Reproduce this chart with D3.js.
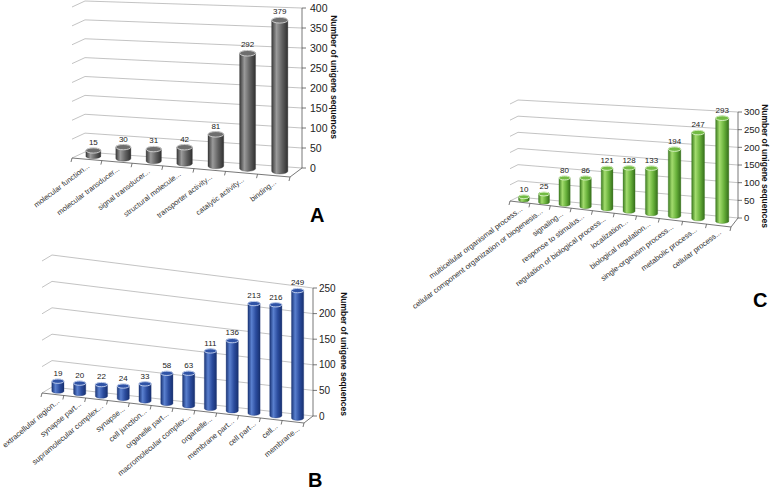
<!DOCTYPE html>
<html>
<head>
<meta charset="utf-8">
<script src="https://cdn.jsdelivr.net/npm/d3@7/dist/d3.min.js"></script>
<style>
  body { margin: 0; background: #fff; }
  svg { display: block; font-family: "Liberation Sans", Arial, sans-serif; }
</style>
</head>
<body>
<svg id="chart" width="778" height="491"></svg>
<script>
// ---- data ----
const mf_categories = ['molecular function...', 'molecular transducer...', 'signal transducer...',
  'structural molecule...', 'transporter activity...', 'catalytic activity...', 'binding...'];
const mf_values = [15, 30, 31, 42, 81, 292, 379];
const mf_ticks = [0, 50, 100, 150, 200, 250, 300, 350, 400];

const cc_categories = ['extracellular region...', 'synapse part...', 'supramolecular complex...',
  'synapse...', 'cell junction...', 'organelle part...', 'macromolecular complex...',
  'organelle...', 'membrane part...', 'cell part...', 'cell...', 'membrane...'];
const cc_values = [19, 20, 22, 24, 33, 58, 63, 111, 136, 213, 216, 249];
const cc_ticks = [0, 50, 100, 150, 200, 250];

const bp_categories = ['multicellular organismal process...',
  'cellular component organization or biogenesis...', 'signaling...', 'response to stimulus...',
  'regulation of biological process...', 'localization...', 'biological regulation...',
  'single-organism process...', 'metabolic process...', 'cellular process...'];
const bp_values = [10, 25, 80, 86, 121, 128, 133, 194, 247, 293];
const bp_ticks = [0, 50, 100, 150, 200, 250, 300];

const axis_title = 'Number of unigene sequences';

// ---- layout of the three pseudo-3D boxes (screen corners of back wall + floor front) ----
const panels = [
  {
    id: 'A', categories: mf_categories, values: mf_values, ticks: mf_ticks,
    bbl: [85, 152], btl: [85, 1], bbr: [302, 168], btr: [302, 8], fbl: [72, 158], fbr: [290, 177],
    s: 1.05, radius: 0.25, label_gap: 8, tick_font: 10.5,
    cat_font: 7.5, cat_angle: -37, cat_dx: 3,
    colors: ['#3a3a3a', '#9a9a9a', '#606060', '#303030', '#6e6e6e', '#d4d4d4'],
    title_xy: [334, 77], letter_xy: [310, 222]
  },
  {
    id: 'B', categories: cc_categories, values: cc_values, ticks: cc_ticks,
    bbl: [52, 387], btl: [52, 255], bbr: [313, 416], btr: [313, 288], fbl: [42, 393], fbr: [304, 423],
    s: 1.0, radius: 0.28, label_gap: 6, tick_font: 10,
    cat_font: 7.7, cat_angle: -40, cat_dx: 7,
    colors: ['#1a3577', '#5a80cf', '#2b4c9e', '#173070', '#2f53a6', '#c8d6f2'],
    title_xy: [344, 354], letter_xy: [308, 487]
  },
  {
    id: 'C', categories: bp_categories, values: bp_values, ticks: bp_ticks,
    bbl: [518, 197], btl: [518, 100], bbr: [738, 218], btr: [738, 112], fbl: [510, 201], fbr: [731, 227],
    s: 1.12, radius: 0.27, label_gap: 6, tick_font: 9.5,
    cat_font: 7.6, cat_angle: -37, cat_dx: 3,
    colors: ['#3d7d1f', '#a3dc6e', '#67b03a', '#356f1a', '#72bb44', '#dcf3c8'],
    title_xy: [765, 166], letter_xy: [753, 307]
  }
];

const svg = d3.select('#chart');
const defs = svg.append('defs');

const lerp = (a, b, t) => [a[0] + (b[0] - a[0]) * t, a[1] + (b[1] - a[1]) * t];

// (u along categories, v up the value axis, w depth: 0 back, 1 front) -> screen
const make_proj = function(g) {
  const ftl = [g.fbl[0] + g.btl[0] - g.bbl[0], g.fbl[1] + g.btl[1] - g.bbl[1]];
  const ftr = [g.fbr[0] + g.btr[0] - g.bbr[0], g.fbr[1] + g.btr[1] - g.bbr[1]];
  return function(u, v, w) {
    let uu = u / (u + g.s * (1 - u));
    let back = lerp(lerp(g.bbl, g.bbr, uu), lerp(g.btl, g.btr, uu), v);
    let front = lerp(lerp(g.fbl, g.fbr, uu), lerp(ftl, ftr, uu), v);
    return lerp(back, front, w);
  };
};

const draw_panel = function(p) {
  let proj = make_proj(p);
  let x = d3.scaleBand().domain(p.categories).range([0, 1]);
  let y = d3.scaleLinear().domain([0, d3.max(p.ticks)]).range([0, 1]);
  let g = svg.append('g').attr('class', 'panel-' + p.id);

  let grad = defs.append('linearGradient').attr('id', 'body-' + p.id)
    .attr('x1', 0).attr('x2', 1).attr('y1', 0).attr('y2', 0);
  grad.append('stop').attr('offset', 0).attr('stop-color', p.colors[0]);
  grad.append('stop').attr('offset', 0.3).attr('stop-color', p.colors[1]);
  grad.append('stop').attr('offset', 0.65).attr('stop-color', p.colors[2]);
  grad.append('stop').attr('offset', 1).attr('stop-color', p.colors[3]);

  // gridlines: left wall and back wall
  p.ticks.forEach(function(t) {
    let a = proj(0, y(t), 1), b = proj(0, y(t), 0), c = proj(1, y(t), 0);
    g.append('path').attr('d', 'M' + a + 'L' + b + 'L' + c)
      .attr('fill', 'none').attr('stroke', '#a9a9a9').attr('stroke-width', 0.7);
  });

  // floor front edge + right edge
  let fl = proj(0, 0, 1), fr = proj(1, 0, 1), br = proj(1, 0, 0), bt = proj(1, 1, 0);
  g.append('path').attr('d', 'M' + fl + 'L' + fr + 'L' + br)
    .attr('fill', 'none').attr('stroke', '#555').attr('stroke-width', 0.8);

  // category ticks on the front edge
  d3.range(p.categories.length + 1).forEach(function(k) {
    let pt = proj(k / p.categories.length, 0, 1);
    g.append('line').attr('x1', pt[0]).attr('y1', pt[1]).attr('x2', pt[0] - 1).attr('y2', pt[1] + 4)
      .attr('stroke', '#555').attr('stroke-width', 0.8);
  });

  // value axis at the back-right corner
  g.append('line').attr('x1', br[0]).attr('y1', br[1]).attr('x2', bt[0]).attr('y2', bt[1])
    .attr('stroke', '#555').attr('stroke-width', 0.8);
  p.ticks.forEach(function(t) {
    let pt = proj(1, y(t), 0);
    g.append('line').attr('x1', pt[0]).attr('y1', pt[1]).attr('x2', pt[0] + 4).attr('y2', pt[1])
      .attr('stroke', '#555').attr('stroke-width', 0.8);
    g.append('text').attr('x', pt[0] + p.label_gap).attr('y', pt[1]).attr('dy', '0.35em')
      .attr('font-size', p.tick_font).attr('fill', '#222').text(t);
  });

  // cylinders
  p.categories.forEach(function(c, i) {
    let uc = x(c) + x.bandwidth() / 2;
    let half = x.bandwidth() * p.radius;
    let pb = proj(uc, 0, 0.5), ptop = proj(uc, y(p.values[i]), 0.5);
    let pl = proj(uc - half, 0, 0.5), pr = proj(uc + half, 0, 0.5);
    let rx = (pr[0] - pl[0]) / 2, ry = rx * 0.35;
    let cx = pb[0], yb = pb[1], yt = ptop[1];
    let d = 'M' + (cx - rx) + ',' + yt + ' L' + (cx - rx) + ',' + yb +
      ' A' + rx + ',' + ry + ' 0 0 0 ' + (cx + rx) + ',' + yb +
      ' L' + (cx + rx) + ',' + yt +
      ' A' + rx + ',' + ry + ' 0 0 0 ' + (cx - rx) + ',' + yt + ' Z';
    g.append('path').attr('d', d).attr('fill', 'url(#body-' + p.id + ')')
      .attr('stroke', p.colors[3]).attr('stroke-width', 0.3);
    g.append('ellipse').attr('cx', cx).attr('cy', yt).attr('rx', rx).attr('ry', ry)
      .attr('fill', p.colors[4]).attr('stroke', p.colors[5]).attr('stroke-width', 0.9);
    g.append('text').attr('x', cx).attr('y', yt - ry - 3).attr('text-anchor', 'middle')
      .attr('font-size', 8).attr('fill', '#222').text(p.values[i]);

    let lp = proj(uc, 0, 1);
    g.append('text')
      .attr('transform', 'translate(' + (lp[0] + p.cat_dx) + ',' + (lp[1] + 8) + ') rotate(' + p.cat_angle + ')')
      .attr('text-anchor', 'end').attr('font-size', p.cat_font).attr('fill', '#333').text(c);
  });

  g.append('text')
    .attr('transform', 'translate(' + p.title_xy[0] + ',' + p.title_xy[1] + ') rotate(90)')
    .attr('text-anchor', 'middle').attr('dy', '0.35em')
    .attr('font-size', 8.5).attr('font-weight', 'bold').attr('fill', '#111').text(axis_title);

  g.append('text').attr('x', p.letter_xy[0]).attr('y', p.letter_xy[1])
    .attr('font-size', 20).attr('font-weight', 'bold').attr('fill', '#000').text(p.id);
};

panels.forEach(draw_panel);
</script>
</body>
</html>
